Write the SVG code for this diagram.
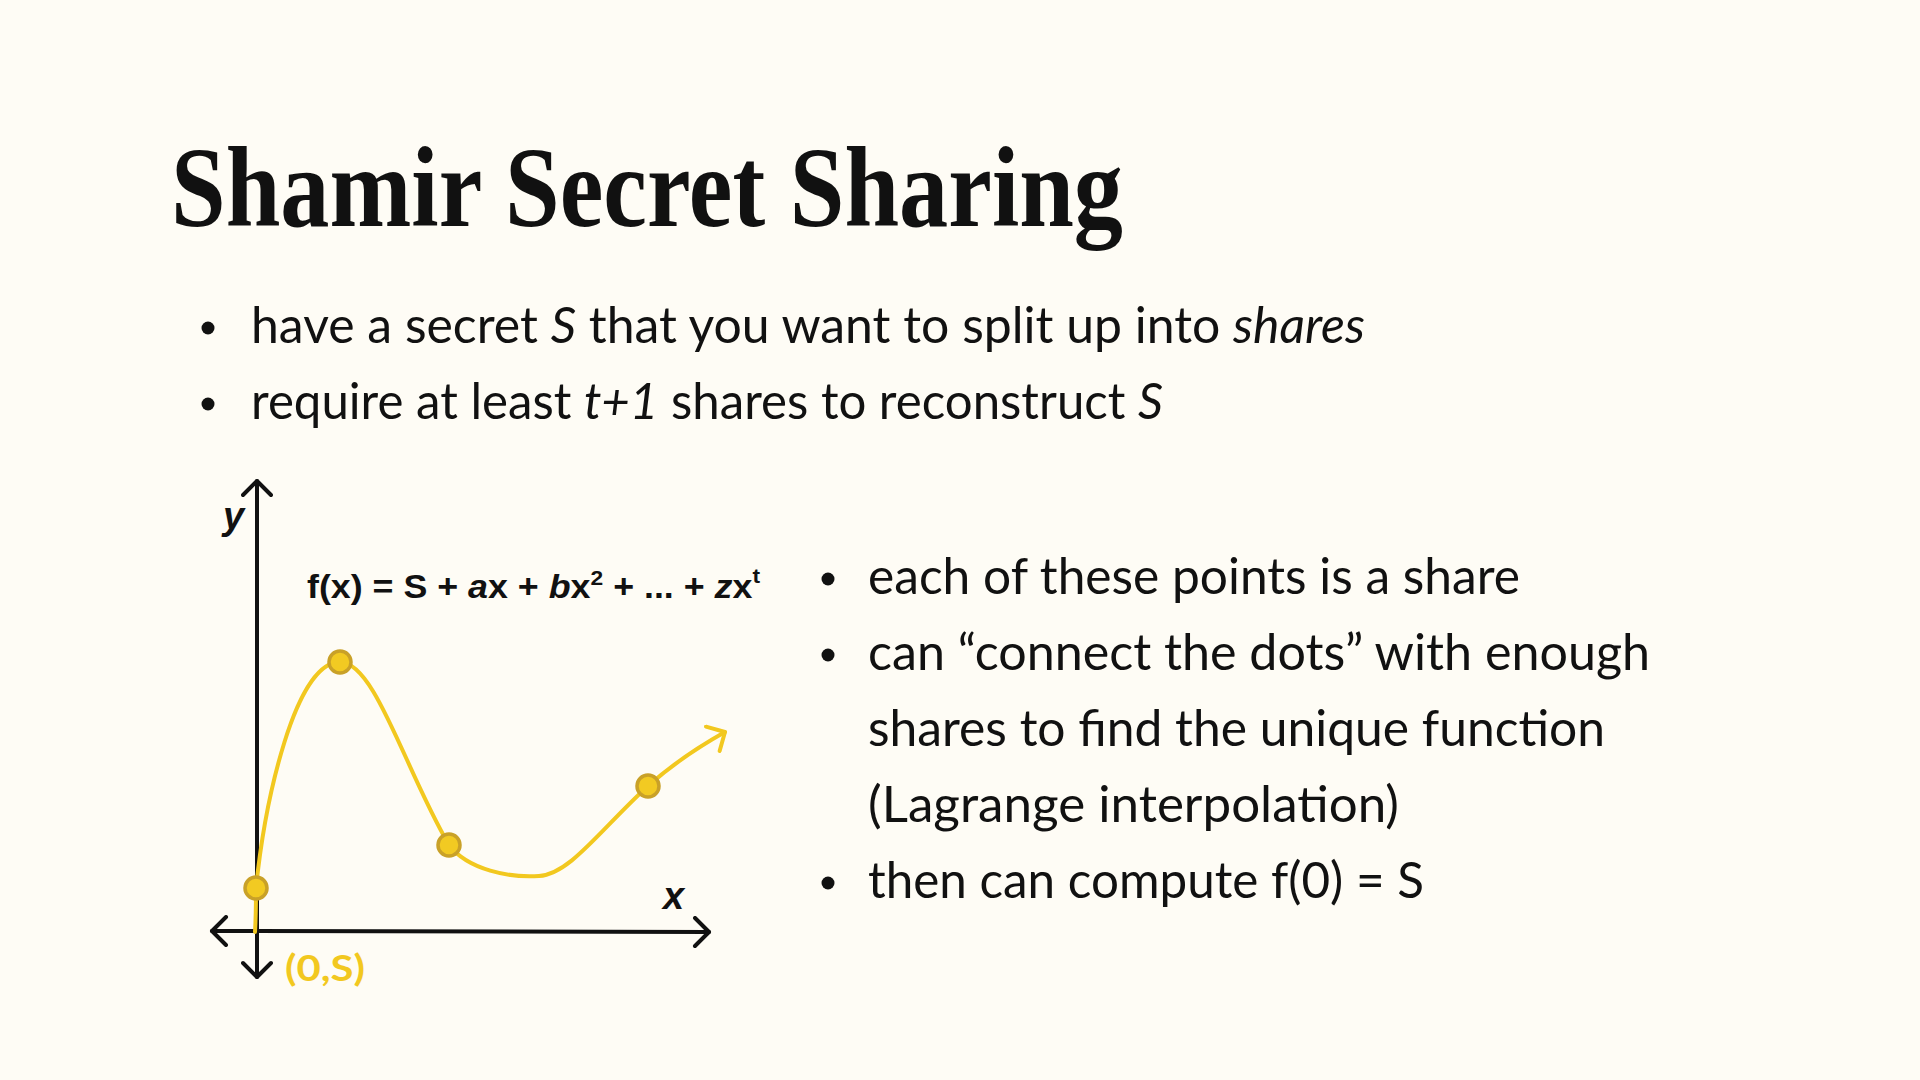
<svg xmlns="http://www.w3.org/2000/svg" width="1920" height="1080" viewBox="0 0 1920 1080">
<defs>
<style>
.title{font-family:"Liberation Serif","DejaVu Serif",serif;font-weight:bold;font-size:115px;fill:#111}
.body{font-family:Lato,"Noto Sans",sans-serif;font-size:51px;fill:#111}
.it{font-style:italic}
.formula{font-family:"Liberation Sans",Arial,sans-serif;font-weight:bold;font-size:33px;fill:#111}
.sup{font-size:21px}
.axislbl{font-family:"Liberation Sans",Arial,sans-serif;font-weight:bold;font-style:italic;font-size:38px;fill:#111}
.axis{stroke:#111;stroke-width:4;fill:none;stroke-linecap:round}
.curve{stroke:#F2C81F;stroke-width:4;fill:none;stroke-linecap:round}
.pt{fill:#F2CA22;stroke:#C9A128;stroke-width:3.5}
.bul{fill:#111}
.origin{font-family:Lato,"Noto Sans",sans-serif;font-weight:bold;font-size:36px;fill:#F2C81F}
</style>
<marker id="chevK" viewBox="0 0 20 32" refX="17" refY="16" markerWidth="20" markerHeight="32" markerUnits="userSpaceOnUse" orient="auto-start-reverse">
<path d="M3,2 L17,16 L3,30" fill="none" stroke="#111" stroke-width="4" stroke-linecap="round" stroke-linejoin="round"/>
</marker>
<marker id="chevY" viewBox="0 0 20 32" refX="17" refY="16" markerWidth="20" markerHeight="32" markerUnits="userSpaceOnUse" orient="auto">
<path d="M3,2 L17,16 L3,30" fill="none" stroke="#F2C81F" stroke-width="4" stroke-linecap="round" stroke-linejoin="round"/>
</marker>
</defs>
<rect width="1920" height="1080" fill="#FEFCF5"/>

<g id="title">
<text class="title" x="171" y="226" textLength="952" lengthAdjust="spacingAndGlyphs">Shamir Secret Sharing</text>
</g>

<g id="bullets-top">
<circle class="bul" cx="208" cy="328" r="6.5"/>
<text class="body" x="251" y="343" textLength="1114" lengthAdjust="spacingAndGlyphs">have a secret <tspan class="it">S</tspan> that you want to split up into <tspan class="it">shares</tspan></text>
<circle class="bul" cx="208" cy="404" r="6.5"/>
<text class="body" x="251" y="419" textLength="912" lengthAdjust="spacingAndGlyphs">require at least <tspan class="it">t+1</tspan> shares to reconstruct <tspan class="it">S</tspan></text>
</g>

<g id="bullets-right">
<circle class="bul" cx="828" cy="579" r="6.5"/>
<text class="body" x="868" y="594" textLength="652" lengthAdjust="spacingAndGlyphs">each of these points is a share</text>
<circle class="bul" cx="828" cy="655" r="6.5"/>
<text class="body" x="868" y="670" textLength="782" lengthAdjust="spacingAndGlyphs">can “connect the dots” with enough</text>
<text class="body" x="868" y="746" textLength="737" lengthAdjust="spacingAndGlyphs">shares to find the unique function</text>
<text class="body" x="868" y="822" textLength="531" lengthAdjust="spacingAndGlyphs">(Lagrange interpolation)</text>
<circle class="bul" cx="828" cy="883" r="6.5"/>
<text class="body" x="868" y="898" textLength="556" lengthAdjust="spacingAndGlyphs">then can compute f(0) = S</text>
</g>

<g id="connectors">
<path class="axis" d="M257,977 L257,481" marker-start="url(#chevK)" marker-end="url(#chevK)"/>
<path class="axis" d="M212,931 L709,932" marker-start="url(#chevK)" marker-end="url(#chevK)"/>
<path class="curve" d="M255,932 C256,915 256,900 256,888 C265,800 295,662 340,662 C375,662 405,770 449,845 C468,870 510,878 539,876 C570,874 600,830 648,786 C675,762 700,746 725,732" marker-end="url(#chevY)"/>
</g>

<g id="labels">
<text class="axislbl" x="223" y="529">y</text>
<text class="axislbl" x="663" y="909">x</text>
<text class="formula" x="307" y="598" textLength="453" lengthAdjust="spacingAndGlyphs">f(x) = S + <tspan font-style="italic">a</tspan>x + <tspan font-style="italic">b</tspan>x<tspan class="sup" dy="-13">2</tspan><tspan dy="13"> + ... + </tspan><tspan font-style="italic">z</tspan>x<tspan class="sup" dy="-15">t</tspan></text>
<text class="origin" x="285" y="981" textLength="80" lengthAdjust="spacingAndGlyphs">(0,S)</text>
</g>

<g id="point-0"><circle class="pt" cx="256" cy="888" r="11"/></g>
<g id="point-1"><circle class="pt" cx="340" cy="662" r="11"/></g>
<g id="point-2"><circle class="pt" cx="449" cy="845" r="11"/></g>
<g id="point-3"><circle class="pt" cx="648" cy="786" r="11"/></g>
</svg>
